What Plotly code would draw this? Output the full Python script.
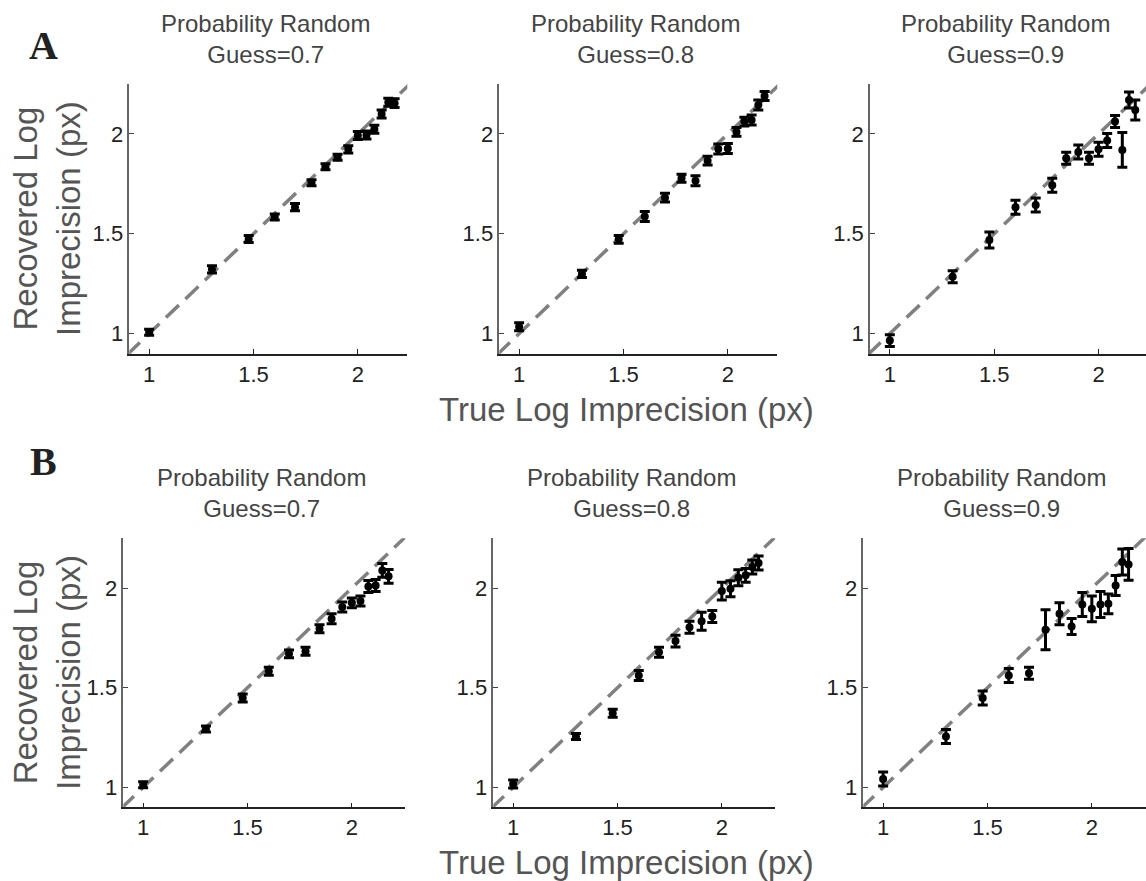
import numpy as np
import plotly.graph_objects as go

W, H = 1146, 881

# True imprecision (px) -> log10
true_px = [10, 20, 30, 40, 50, 60, 70, 80, 90, 100, 110, 120, 130, 140, 150]
x_log = list(np.log10(true_px))

guess_labels = ["0.7", "0.8", "0.9"]

# Row A recovered values and errors
A_07 = [1.007, 1.322, 1.474, 1.584, 1.633, 1.756, 1.836, 1.883, 1.923, 1.992, 1.995, 2.023, 2.100, 2.159, 2.154]
A_07_err = [0.015, 0.018, 0.018, 0.015, 0.018, 0.015, 0.015, 0.015, 0.018, 0.02, 0.02, 0.02, 0.02, 0.02, 0.022]
A_08 = [1.035, 1.299, 1.472, 1.586, 1.681, 1.778, 1.765, 1.866, 1.925, 1.927, 2.010, 2.062, 2.070, 2.145, 2.190]
A_08_err = [0.02, 0.018, 0.02, 0.025, 0.022, 0.02, 0.025, 0.022, 0.025, 0.025, 0.022, 0.022, 0.025, 0.025, 0.022]
A_09 = [0.965, 1.285, 1.469, 1.633, 1.644, 1.743, 1.878, 1.910, 1.878, 1.923, 1.967, 2.062, 1.920, 2.170, 2.120]
A_09_err = [0.03, 0.03, 0.04, 0.035, 0.035, 0.035, 0.03, 0.035, 0.03, 0.035, 0.035, 0.03, 0.087, 0.04, 0.05]

# Row B recovered values and errors
B_07 = [1.013, 1.293, 1.449, 1.583, 1.670, 1.683, 1.796, 1.846, 1.905, 1.926, 1.935, 2.008, 2.013, 2.089, 2.059]
B_07_err = [0.015, 0.015, 0.02, 0.02, 0.02, 0.02, 0.02, 0.025, 0.025, 0.025, 0.025, 0.03, 0.03, 0.035, 0.035]
B_08 = [1.017, 1.255, 1.372, 1.561, 1.678, 1.734, 1.804, 1.834, 1.858, 1.985, 1.997, 2.052, 2.064, 2.106, 2.126]
B_08_err = [0.02, 0.015, 0.02, 0.025, 0.025, 0.03, 0.03, 0.045, 0.03, 0.045, 0.04, 0.04, 0.035, 0.035, 0.035]
B_09 = [1.042, 1.255, 1.449, 1.561, 1.573, 1.791, 1.871, 1.807, 1.918, 1.896, 1.918, 1.921, 2.013, 2.131, 2.119]
B_09_err = [0.035, 0.035, 0.035, 0.035, 0.03, 0.1, 0.055, 0.04, 0.06, 0.065, 0.065, 0.05, 0.05, 0.065, 0.08]

rows = [
    [(A_07, A_07_err), (A_08, A_08_err), (A_09, A_09_err)],
    [(B_07, B_07_err), (B_08, B_08_err), (B_09, B_09_err)],
]
panel_letters = ["A", "B"]

# Layout geometry (pixels)
top_rows = [(84, 354), (538.3, 807.3)]
col_edges = [
    [(129.3, 407.3), (499.3, 777.3), (870, 1146)],
    [(123.3, 405.3), (493.3, 775.3), (863.3, 1146)],
]
letter_pos = [(43, 46), (43, 461)]
x_scale = 208.7  # px per unit

fig = go.Figure()

def px_x(p):
    return p / W

def px_y(p):
    return 1 - p / H

ax_i = 0
annotations = []
for r in range(2):
    ytop, ybot = top_rows[r]
    for c in range(3):
        ax_i += 1
        xl, xr = col_edges[r][c]
        xa = "x" if ax_i == 1 else f"x{ax_i}"
        ya = "y" if ax_i == 1 else f"y{ax_i}"
        vals, errs = rows[r][c]
        # identity line
        fig.add_trace(go.Scatter(
            x=[0.8, 2.4], y=[0.8, 2.4], mode="lines",
            line=dict(color="#808080", width=3.5, dash="18px,9px"),
            xaxis=xa, yaxis=ya, showlegend=False, hoverinfo="skip"))
        fig.add_trace(go.Scatter(
            x=x_log, y=vals, mode="markers",
            marker=dict(color="black", size=8, symbol="circle"),
            error_y=dict(type="data", array=errs, visible=True,
                         color="black", thickness=3, width=5),
            xaxis=xa, yaxis=ya, showlegend=False))
        xmin = 0.905
        xmax = xmin + (xr - xl) / x_scale
        ymin = 0.898 if r == 0 else 0.900
        xkey = "xaxis" if ax_i == 1 else f"xaxis{ax_i}"
        ykey = "yaxis" if ax_i == 1 else f"yaxis{ax_i}"
        fig.layout[xkey] = dict(
            domain=[px_x(xl), min(px_x(xr), 1.0)], range=[xmin, xmax],
            anchor=ya, showline=True, linecolor="#222", linewidth=1.5,
            ticks="inside", ticklen=5, tickcolor="#222", tickwidth=1,
            tickvals=[1, 1.5, 2], ticktext=["1", "1.5", "2"],
            showgrid=False, zeroline=False,
            tickfont=dict(family="Liberation Sans", size=22, color="#222"))
        fig.layout[ykey] = dict(
            domain=[px_y(ybot), px_y(ytop)], range=[ymin, 2.25],
            anchor=xa, showline=True, linecolor="#666", linewidth=1.5,
            ticks="inside", ticklen=5, tickcolor="#444", tickwidth=1,
            tickvals=[1, 1.5, 2], ticktext=["1", "1.5", "2"],
            showgrid=False, zeroline=False,
            tickfont=dict(family="Liberation Sans", size=22, color="#222"))
        # subplot title
        cx = (xl + xr) / 2 - 3
        ty = ytop - 45
        annotations.append(dict(
            x=px_x(cx), y=px_y(ty), xref="paper", yref="paper",
            text=f"Probability Random<br>Guess={guess_labels[c]}",
            showarrow=False, xanchor="center", yanchor="middle",
            font=dict(family="Liberation Sans", size=24, color="#444")))
    # y axis title
    annotations.append(dict(
        x=px_x(47), y=px_y((ytop + ybot) / 2), xref="paper", yref="paper",
        text="Recovered Log<br>Imprecision (px)", textangle=-90,
        showarrow=False, xanchor="center", yanchor="middle",
        font=dict(family="Liberation Sans", size=33, color="#555")))
    # x axis title
    annotations.append(dict(
        x=px_x(626), y=px_y(ybot + 55), xref="paper", yref="paper",
        text="True Log Imprecision (px)",
        showarrow=False, xanchor="center", yanchor="middle",
        font=dict(family="Liberation Sans", size=33, color="#555")))
    # panel letter
    lx, ly = letter_pos[r]
    annotations.append(dict(
        x=px_x(lx), y=px_y(ly), xref="paper", yref="paper",
        text=f"<b>{panel_letters[r]}</b>",
        showarrow=False, xanchor="center", yanchor="middle",
        font=dict(family="Liberation Serif", size=40, color="#222")))

fig.update_layout(
    width=W, height=H, margin=dict(l=0, r=0, t=0, b=0),
    paper_bgcolor="white", plot_bgcolor="white",
    annotations=annotations, showlegend=False)

fig.write_html("out.html")
